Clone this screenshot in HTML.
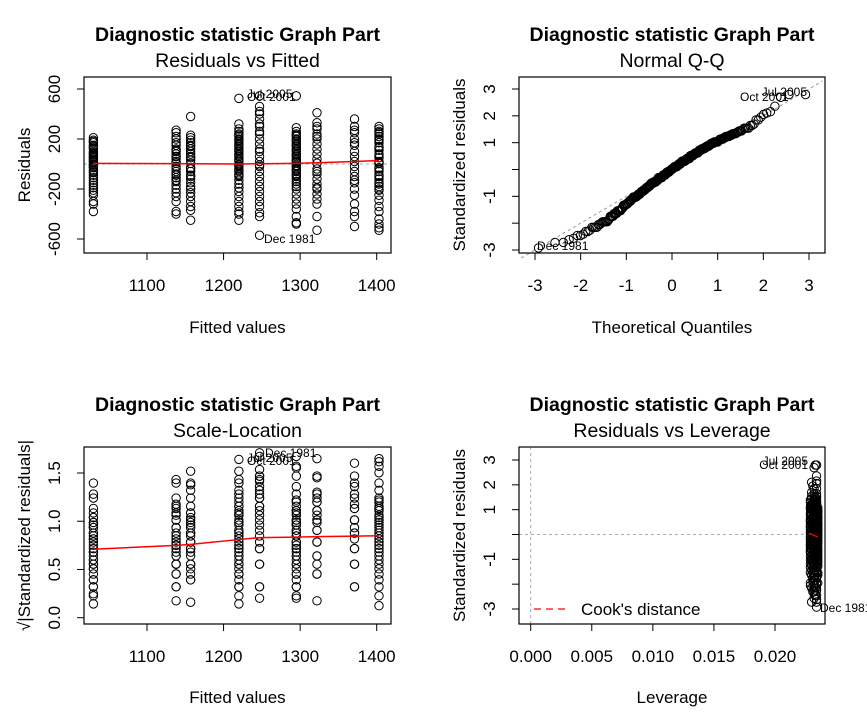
<!DOCTYPE html>
<html><head><meta charset="utf-8"><style>
html,body{margin:0;padding:0;background:#fff}
svg{display:block;font-family:"Liberation Sans",Arial,sans-serif}
</style></head><body>
<svg id="c" width="867" height="712" viewBox="0 0 867 712"></svg>
<script>
const fittedGroups=[1030,1138,1157,1220,1247,1295,1322,1371,1403];
const residualsByGroup=[
[210,190,170,150,140,120,100,90,80,60,50,40,20,12,-4,-10,-30,-50,-70,-90,-110,-130,-150,-170,-190,-210,-230,-250,-300,-320,-380,180,130,70,30,-20,-60],
[270,250,220,200,170,150,120,100,80,60,40,20,6,-20,-40,-60,-90,-110,-140,-170,-200,-230,-260,-300,-380,-400,60,110,-80,-130],
[380,230,210,190,170,150,120,100,80,50,30,5,-30,-60,-90,-120,-150,-180,-200,-230,-260,-300,-340,-370,-450,140,60,-40,-100],
[525,320,280,260,240,220,200,180,160,140,120,100,80,60,40,20,-4,-20,-40,-60,-80,-100,-130,-160,-190,-220,-260,-300,-340,-380,-400,-450,150,110,70,30,-10,-50,-90,230,190],
[-570,460,420,400,360,320,300,260,240,200,160,120,100,60,20,-8,-20,-60,-100,-140,-180,-220,-260,-300,-340,-390,-420,545],
[545,290,260,240,220,200,180,160,140,120,100,80,60,40,20,8,-20,-40,-60,-80,-100,-120,-140,-160,-180,-200,-240,-280,-320,-360,-420,-470,-480,230,190,150,110,70,30,-10,-50,-90],
[410,330,280,240,200,160,120,80,40,6,-40,-80,-120,-160,-200,-240,-280,-320,-420,-530,300,220,-60,-190],
[360,300,250,200,150,100,60,20,-20,-60,-100,-150,-200,-250,-320,-380,-420,-500,270,170,-130],
[300,280,260,240,220,200,170,140,110,80,50,20,3,-30,-60,-90,-120,-150,-180,-210,-250,-290,-340,-380,-440,-480,-510,-530,250,190,130,70,10,-40,-100,-160,-200]
];
const leverageByGroup=[0.0235,0.0229,0.0231,0.0232,0.0234,0.0233,0.0230,0.0232,0.0234];
const residualSmooth=[5,3,2,0,2,5,10,20,28];
const scaleSmooth=[0.71,0.75,0.76,0.81,0.83,0.835,0.84,0.845,0.85];
const residualSigma=195;
const yTicks1=[600,200,-200,-600];
const xTicksFit=[1100,1200,1300,1400];
const yTicksQQ=[3,2,1,0,-1,-2,-3];
const yLabelsQQ=["3","2","1","","-1","","-3"];
const xTicksQQ=[-3,-2,-1,0,1,2,3];
const yTicksSL=[0,0.5,1,1.5];
const yTicksSLLabels=["0.0","0.5","1.0","1.5"];
const xTicksLev=[0,0.005,0.01,0.015,0.02];
const xTicksLevLabels=["0.000","0.005","0.010","0.015","0.020"];

const svg=document.getElementById('c');
const NS='http://www.w3.org/2000/svg';
function el(tag,attrs,parent){const e=document.createElementNS(NS,tag);for(const k in attrs)e.setAttribute(k,attrs[k]);(parent||svg).appendChild(e);return e;}
function txt(s,x,y,size,extra,parent){const t=el('text',Object.assign({x:x,y:y,'font-size':size,fill:'#000'},extra||{}),parent);t.textContent=s;return t;}
function lin(a0,a1,p0,p1){return v=>p0+(v-a0)*(p1-p0)/(a1-a0);}

const xF1=lin(1100,1400,147,376.7);
const yR=lin(0,600,164,89);
const xQ=lin(0,3,672,809);
const yQ=lin(0,3,169.5,89);
const yS=lin(0,1.5,617.7,473);
const yL=lin(0,3,534.5,460);
const xL=lin(0,0.02,530.7,775);

function panel(name,x0,y0,x1,y1,sub,xlab,ylab){
  const g=el('g',{});
  
  
  const cx=(x0+x1)/2;
  const t=txt('Diagnostic statistic Graph Part',cx,y0-36,19.5,{'text-anchor':'middle','font-weight':'bold'},g);
  
  const s=txt(sub,cx,y0-10,19.5,{'text-anchor':'middle'},g);
  
  const xl=txt(xlab,cx,y0+256,17,{'text-anchor':'middle'},g);
  
  const ym=(y0+y1)/2;
  const yl=txt(ylab,0,0,17,{'text-anchor':'middle',transform:'translate('+(x0-54)+','+ym+') rotate(-90)'},g);
  
  return g;
}
function frame(g,x0,y0,x1,y1){const r=el('rect',{x:x0,y:y0,width:x1-x0,height:y1-y0,fill:'none',stroke:'#000','stroke-width':1.2},g);}
function xaxis(g,ticks,labels,sc,y1){ticks.forEach((v,i)=>{const x=sc(v);el('line',{x1:x,x2:x,y1:y1,y2:y1+7,stroke:'#000'},g);const t=txt(labels[i],x,y1+38,17,{'text-anchor':'middle'},g);});}
function yaxis(g,ticks,labels,sc,x0){ticks.forEach((v,i)=>{const y=sc(v);el('line',{x1:x0-7,x2:x0,y1:y,y2:y,stroke:'#000'},g);if(labels[i]!==''){const t=txt(labels[i],0,0,17,{'text-anchor':'middle',transform:'translate('+(x0-24)+','+y+') rotate(-90)'},g);}});}
function pt(g,x,y){const c=el('circle',{cx:x,cy:y,r:4.2,fill:'none',stroke:'#000','stroke-width':1},g);}

const all=[];
fittedGroups.forEach((f,gi)=>residualsByGroup[gi].forEach(r=>all.push({f:f,r:r,s:r/residualSigma,lev:leverageByGroup[gi]})));

// Panel 1
let g=panel('residuals-vs-fitted-panel',84,77,391,253,'Residuals vs Fitted','Fitted values','Residuals');
el('line',{x1:84,x2:391,y1:yR(0),y2:yR(0),stroke:'#aaa','stroke-dasharray':'3,3'},g);
all.forEach(p=>pt(g,xF1(p.f),yR(p.r)));
let pl=el('polyline',{points:fittedGroups.map((f,i)=>xF1(f)+','+yR(residualSmooth[i])).join(' '),fill:'none',stroke:'#f00','stroke-width':1.5},g);

frame(g,84,77,391,253);
xaxis(g,xTicksFit,xTicksFit.map(String),xF1,253);
yaxis(g,yTicks1,yTicks1.map(String),yR,84);
txt('Jul 2005',247,98,12,{},g);txt('Oct 2001',247,101,12,{},g);txt('Dec 1981',264,243,12,{},g);

// Panel 2 QQ
g=panel('normal-qq-panel',519,77,825,253,'Normal Q-Q','Theoretical Quantiles','Standardized residuals');
function qnorm(p){const a=[-39.6968302866538,220.946098424521,-275.928510446969,138.357751867269,-30.6647980661472,2.50662827745924],b=[-54.4760987982241,161.585836858041,-155.698979859887,66.8013118877197,-13.2806815528857],c=[-0.00778489400243029,-0.322396458041136,-2.40075827716184,-2.54973253934373,4.37466414146497,2.93816398269878],d=[0.00778469570904146,0.32246712907004,2.445134137143,3.75440866190742];
 let q,r;if(p<0.02425){q=Math.sqrt(-2*Math.log(p));return (((((c[0]*q+c[1])*q+c[2])*q+c[3])*q+c[4])*q+c[5])/((((d[0]*q+d[1])*q+d[2])*q+d[3])*q+1);}
 if(p>1-0.02425){q=Math.sqrt(-2*Math.log(1-p));return -(((((c[0]*q+c[1])*q+c[2])*q+c[3])*q+c[4])*q+c[5])/((((d[0]*q+d[1])*q+d[2])*q+d[3])*q+1);}
 q=p-0.5;r=q*q;return (((((a[0]*r+a[1])*r+a[2])*r+a[3])*r+a[4])*r+a[5])*q/(((((b[0]*r+b[1])*r+b[2])*r+b[3])*r+b[4])*r+1);}
const sorted=all.map(p=>p.s).sort((a,b)=>a-b);const n=sorted.length;
el('line',{x1:xQ(-3.3),x2:xQ(3.3),y1:yQ(-3.3),y2:yQ(3.3),stroke:'#999','stroke-dasharray':'3,3'},g);
sorted.forEach((s,i)=>pt(g,xQ(qnorm((i+0.5)/n)),yQ(s)));
frame(g,519,77,825,253);
xaxis(g,xTicksQQ,xTicksQQ.map(String),xQ,253);
yaxis(g,yTicksQQ,yLabelsQQ,yQ,519);
txt('Jul 2005',807,96,12,{'text-anchor':'end'},g);txt('Oct 2001',740,101,12,{},g);txt('Dec 1981',537,250,12,{},g);

// Panel 3
g=panel('scale-location-panel',84,447,391,624,'Scale-Location','Fitted values','√|Standardized residuals|');
all.forEach(p=>pt(g,xF1(p.f),yS(Math.sqrt(Math.abs(p.s)))));
pl=el('polyline',{points:fittedGroups.map((f,i)=>xF1(f)+','+yS(scaleSmooth[i])).join(' '),fill:'none',stroke:'#f00','stroke-width':1.5},g);

frame(g,84,447,391,624);
xaxis(g,xTicksFit,xTicksFit.map(String),xF1,624);
yaxis(g,yTicksSL,yTicksSLLabels,yS,84);
txt('Dec 1981',265,457,12,{},g);txt('Jul 2005',247,462,12,{},g);txt('Oct 2001',247,465,12,{},g);

// Panel 4
g=panel('residuals-vs-leverage-panel',519,447,825,624,'Residuals vs Leverage','Leverage','Standardized residuals');
el('line',{x1:519,x2:825,y1:yL(0),y2:yL(0),stroke:'#aaa','stroke-dasharray':'3,3'},g);
el('line',{x1:xL(0),x2:xL(0),y1:447,y2:624,stroke:'#aaa','stroke-dasharray':'3,3'},g);
all.forEach(p=>pt(g,xL(p.lev),yL(p.s)));
el('line',{x1:xL(0.0228),x2:xL(0.0235),y1:yL(0.05),y2:yL(-0.1),stroke:'#f00','stroke-width':1.3},g);
frame(g,519,447,825,624);
xaxis(g,xTicksLev,xTicksLevLabels,xL,624);
yaxis(g,yTicksQQ,yLabelsQQ,yL,519);
const lg=el('g',{},g);
el('line',{x1:534,x2:568,y1:609,y2:609,stroke:'#f00','stroke-width':1.3,'stroke-dasharray':'7,5'},lg);
txt("Cook's distance",581,615,17,{},lg);
txt('Jul 2005',808,465,12,{'text-anchor':'end'},g);txt('Oct 2001',808,469,12,{'text-anchor':'end'},g);txt('Dec 1981',820,612,12,{},g);
</script>
</body></html>
